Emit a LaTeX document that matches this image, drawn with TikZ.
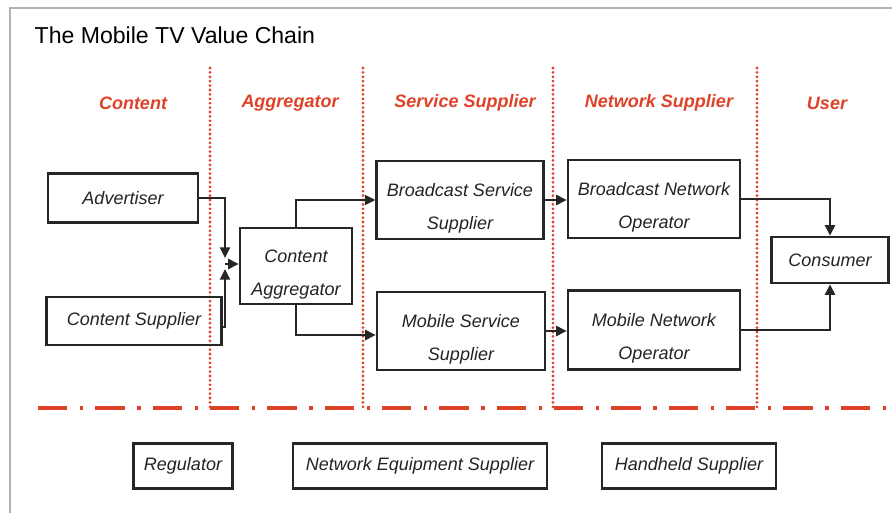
\documentclass[tikz,border=0pt]{standalone}
\usepackage{fontspec}
\setmainfont{Liberation Sans}
\usetikzlibrary{arrows.meta}
\definecolor{chainred}{RGB}{222,66,40}
\definecolor{boxtext}{RGB}{35,35,35}
\newcommand{\twolines}[2]{\raisebox{-5pt}[\height][\depth]{\begin{tabular}{@{}c@{}}#1\\#2\end{tabular}}}
\begin{document}
\begin{tikzpicture}[x=0.75pt, y=-0.75pt,
   every node/.style={font=\fontsize{13.5}{24.5}\selectfont\itshape, text=boxtext},
   box/.style={draw=black!85, line width=1.8pt, inner sep=0pt, align=center},
   head/.style={font=\fontsize{13.5}{16}\selectfont\bfseries\itshape, text=chainred},
   arr/.style={line width=1.7pt, draw=black!85, -{Triangle[length=8pt,width=7.5pt]}},
   sep/.style={draw=chainred, line width=2.3pt, line cap=round, dash pattern=on 0pt off 3.3pt},
   base/.style={draw=chainred, line width=2.5pt, dash pattern=on 22pt off 9.5pt on 2.5pt off 9pt}]
\useasboundingbox (0,0) rectangle (892,513);
\draw[gray!60, line width=2pt] (10,8) rectangle (904,530);
\node[anchor=west, font=\fontsize{17.3}{20}\selectfont, text=black] (title) at (30,35) {The Mobile TV Value Chain};
\node[head] (hcontent) at (133,103) {Content};
\node[head] (hagg)     at (290,103) {Aggregator};
\node[head] (hservice) at (465,103) {Service Supplier};
\node[head] (hnetwork) at (659,103) {Network Supplier};
\node[head] (huser)    at (827,103) {User};
\foreach \xx in {210,363,553,757}
  \draw[sep] (\xx,68) -- (\xx,408);
\draw[base] (38,408) -- (892,408);
\node[box, minimum width=112.5pt, minimum height=36.75pt] (adv)  at (123,198) {Advertiser};
\node[box, minimum width=131pt, minimum height=36pt]      (csup) at (134,321) {Content Supplier};
\node[box, minimum width=84pt, minimum height=57pt]       (agg)  at (296,266) {\twolines{Content}{Aggregator}};
\node[box, minimum width=125pt, minimum height=58.5pt]    (bss)  at (460,200) {\twolines{Broadcast Service}{Supplier}};
\node[box, minimum width=126pt, minimum height=58.5pt]    (mss)  at (461,331) {\twolines{Mobile Service}{Supplier}};
\node[box, minimum width=129pt, minimum height=58.5pt]    (bno)  at (654,199) {\twolines{Broadcast Network}{Operator}};
\node[box, minimum width=129pt, minimum height=59pt]      (mno)  at (654,330) {\twolines{Mobile Network}{Operator}};
\node[box, minimum width=88pt, minimum height=34.5pt]     (cons) at (830,260) {Consumer};
\node[box, minimum width=74pt, minimum height=34pt]       (reg)  at (183,466) {Regulator};
\node[box, minimum width=190.5pt, minimum height=34pt]    (nes)  at (420,466) {Network Equipment Supplier};
\node[box, minimum width=130.5pt, minimum height=34pt]    (hhs)  at (689,466) {Handheld Supplier};
\coordinate (jtop) at (225,258);
\coordinate (jbot) at (225,269);
\coordinate (jmid) at (225,264);
\draw[arr] (adv.east) -| (jtop);
\draw[arr] ([yshift=-4.5pt]csup.east) -| (jbot);
\draw[arr] (jmid) -- (jmid -| agg.west);
\draw[arr] (agg.north) |- (bss.west);
\draw[arr] (agg.south) |- ([yshift=-3pt]mss.west);
\draw[arr] (bss.east) -- (bss.east -| bno.west);
\draw[arr] (mss.east) -- (mss.east -| mno.west);
\draw[arr] (bno.east) -| (cons.north);
\draw[arr] (mno.east) -| (cons.south);
\end{tikzpicture}
\end{document}
